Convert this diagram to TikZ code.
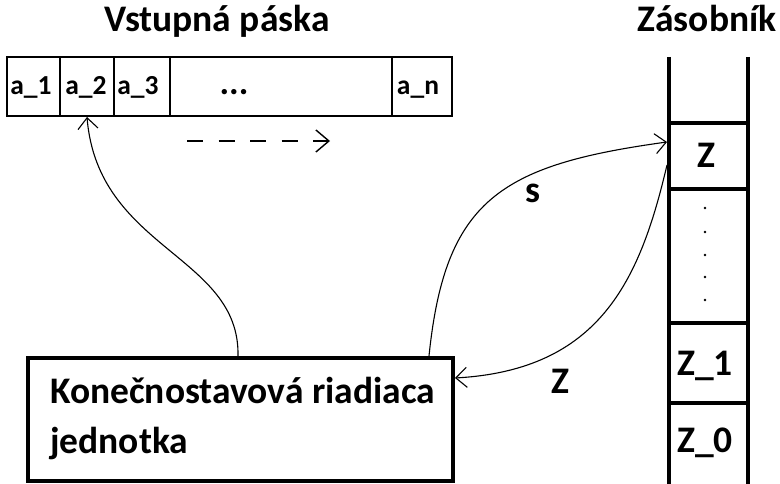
\documentclass[tikz,border=0pt]{standalone}
\usepackage{fontspec}
\setmainfont{Carlito}
\usetikzlibrary{arrows.meta}
\begin{document}
\begin{tikzpicture}[x=1pt,y=-1pt,
  big/.style={font=\bfseries\fontsize{37.5}{50}\selectfont, inner sep=0pt, anchor=base},
  cell/.style={font=\bfseries\fontsize{27.5}{30}\selectfont, inner sep=0pt, anchor=base},
  tape/.style={line width=1.4pt},
  thick box/.style={line width=4pt},
  conn/.style={line width=1.1pt, -{Straight Barb[length=11pt,width=20pt,line width=1.1pt]}},
]
\useasboundingbox (0,0) rectangle (780,484);
% titles
\node[big] (t1) at (217,32) {Vstupná páska};
\node[big] (t2) at (707,32) {Zásobník};
% tape
\draw[tape] (7,57) rectangle (452,116);
\foreach \x in {60,114,170,392} \draw[tape] (\x,57) -- (\x,116);
\node[cell] (a1) at (31,95) {a\_1};
\node[cell] (a2) at (86,95) {a\_2};
\node[cell] (a3) at (138,95) {a\_3};
\node[cell, font=\bfseries\fontsize{36}{36}\selectfont] (dots) at (234,95) {...};
\node[cell] (an) at (418,95) {a\_n};
\coordinate (a2b) at (87,117);
% dashed arrow
\coordinate (d1) at (187,141);
\coordinate (d2) at (330,141);
\draw[line width=1.4pt, dash pattern=on 16pt off 15.5pt, -{Straight Barb[length=13pt,width=22pt,line width=1.4pt]}] (d1) -- (d2);
% stack
\draw[thick box] (669,57) -- (669,486);
\draw[thick box] (748,57) -- (748,486);
\foreach \y in {123,189,323,403} \draw[thick box] (669,\y) -- (748,\y);
\node[big] (z) at (706,168) {Z};
\foreach \y in {208,232,255,277,300} \fill (705,\y) circle (1.3);
\node[big] (z1) at (705,375) {Z\_1};
\node[big] (z0) at (705,452) {Z\_0};
\coordinate (zin) at (667,142);
\coordinate (zout) at (667,165);
% control unit
\draw[thick box] (28,358) rectangle (453,481);
\node[big, anchor=base west] (k1) at (50,403) {Konečnostavová riadiaca};
\node[big, anchor=base west] (k2) at (50,453) {jednotka};
\coordinate (kt1) at (238,356);
\coordinate (kt2) at (429,356);
\coordinate (kr) at (455,378);
% connectors
\draw[conn] (kt1) .. controls (240,255) and (98,250) .. (a2b);
\draw[conn] (kt2) .. controls (445,200) and (500,165) .. (zin);
\draw[conn] (zout) .. controls (640,280) and (600,370) .. (kr);
\node[big] (s) at (533,203) {s};
\node[big] (zl) at (560,393) {Z};
\end{tikzpicture}
\end{document}
